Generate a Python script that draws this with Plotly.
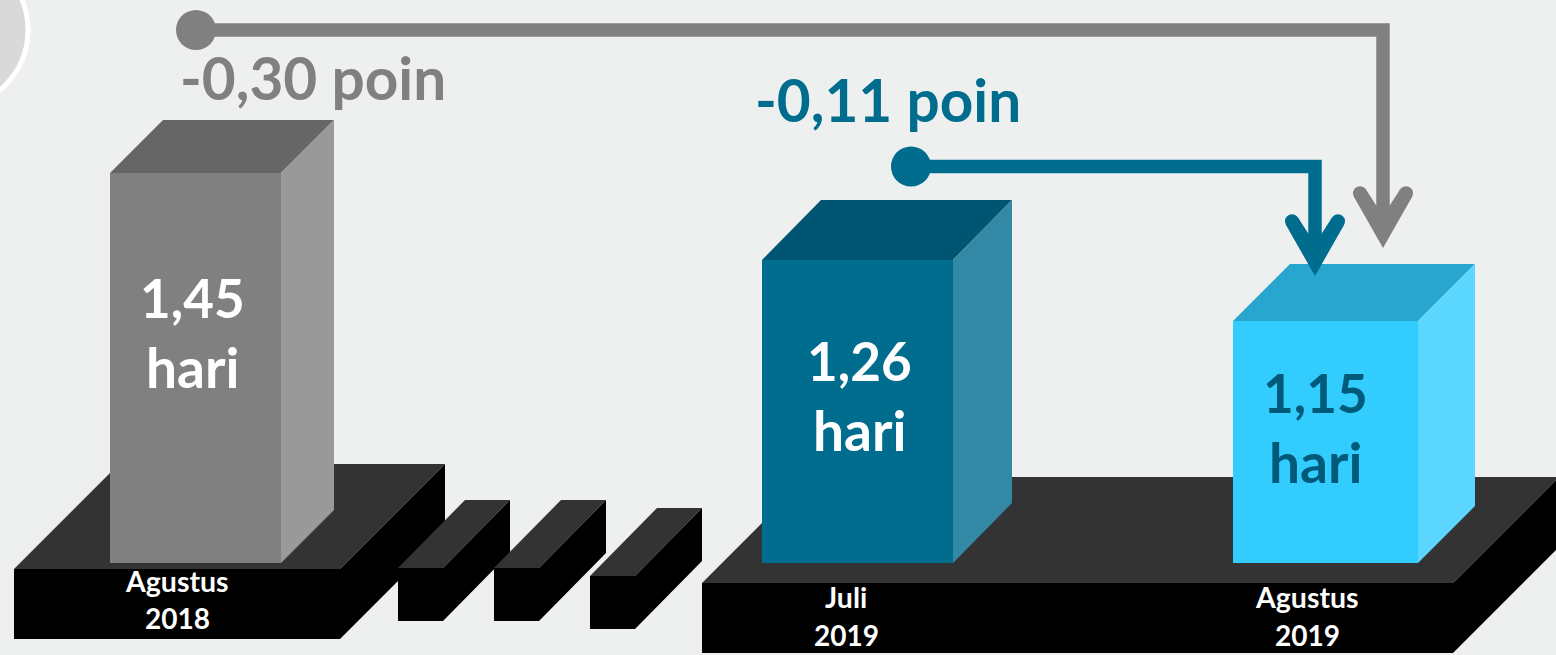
import plotly.graph_objects as go

# ---- data ----
periods = ["Agustus<br>2018", "Juli<br>2019", "Agustus<br>2019"]
values = [1.45, 1.26, 1.15]
drawn_heights = [390, 303, 242]   # bar heights as drawn in the infographic
diff_values = [-0.30, -0.11]

# ---- layout / styling ----
W, H = 1556, 655
BG = "#EEF0EF"
FONT = "Lato"
GREY, BLUE = "#808080", "#006C8E"
Y = lambda p: H - p
FLOOR = 563
bar_x = [(110, 281), (762, 953), (1233, 1418)]
bar_depth = [(53, 53), (59, 60), (57, 57)]
front_col = [GREY, BLUE, "#33CCFF"]
top_col = ["#666666", "#005672", "#29A6D0"]
side_col = ["#999999", "#3388A5", "#5AD6FF"]
val_col = ["#FFFFFF", "#FFFFFF", "#015A7A"]
val_xy = [(192, 297, 367), (859, 360, 430), (1315, 392, 462)]
period_xy = [(177, 581, 618), (846, 597, 635), (1307, 597, 635)]

shapes, annotations = [], []

def poly(pts, fill, layer="below"):
    path = "M " + " L ".join(f"{x},{Y(y)}" for x, y in pts) + " Z"
    shapes.append(dict(type="path", path=path, fillcolor=fill, line=dict(width=0),
                       xref="x", yref="y", layer=layer))

def block(x0, x1, ytop, ybot, dx, dy, front, top, side, draw_front=True):
    poly([(x0, ytop), (x0 + dx, ytop - dy), (x1 + dx, ytop - dy), (x1, ytop)], top)
    poly([(x1, ytop), (x1 + dx, ytop - dy), (x1 + dx, ybot - dy), (x1, ybot)], side)
    if draw_front:
        poly([(x0, ytop), (x1, ytop), (x1, ybot), (x0, ybot)], front)

# decorative circle at the top-left corner
shapes.append(dict(type="circle", x0=-128, x1=28, y0=Y(108), y1=Y(-48), xref="x", yref="y",
                   fillcolor="#D9D9D9", line=dict(color="#FFFFFF", width=5), layer="below"))

# pedestals
block(14, 340, 569, 639, 105, 105, "#000000", "#333333", "#000000")
block(398, 443, 568, 621, 67, 68, "#000000", "#333333", "#000000")
block(494, 539, 568, 621, 67, 68, "#000000", "#333333", "#000000")
block(590, 635, 576, 629, 67, 68, "#000000", "#333333", "#000000")
block(702, 1453, 583, 653, 106, 106, "#000000", "#333333", "#000000")

fig = go.Figure()

# bar fronts come from the drawn heights through the axis
fig.add_trace(go.Bar(
    x=[(a + b) / 2 for a, b in bar_x],
    y=drawn_heights,
    base=Y(FLOOR),
    width=[b - a for a, b in bar_x],
    marker=dict(color=front_col, line=dict(width=0)),
    hoverinfo="skip",
))

# bar tops and sides
for (a, b), h, (dx, dy), tc, sc in zip(bar_x, drawn_heights, bar_depth, top_col, side_col):
    t = FLOOR - h
    fig.add_trace(go.Scatter(x=[a, a + dx, b + dx, b, a],
                             y=[Y(t), Y(t - dy), Y(t - dy), Y(t), Y(t)],
                             fill="toself", fillcolor=tc, mode="none", hoverinfo="skip"))
    fig.add_trace(go.Scatter(x=[b, b + dx, b + dx, b, b],
                             y=[Y(t), Y(t - dy), Y(FLOOR - dy), Y(FLOOR), Y(t)],
                             fill="toself", fillcolor=sc, mode="none", hoverinfo="skip"))

# connector arrows
def connector(cx, cy, corner_x, end_y, tip_y, color):
    shapes.append(dict(type="circle", x0=cx - 20, x1=cx + 20, y0=Y(cy + 20), y1=Y(cy - 20),
                       xref="x", yref="y", fillcolor=color, line=dict(width=0), layer="above"))
    shapes.append(dict(type="path",
                       path=f"M {cx},{Y(cy)} L {corner_x},{Y(cy)} L {corner_x},{Y(end_y)}",
                       xref="x", yref="y", line=dict(color=color, width=13.5), layer="above"))
    t = tip_y
    pts = [(corner_x, t), (corner_x - 29, t - 51), (corner_x - 17, t - 58.5), (corner_x, t - 32),
           (corner_x + 17, t - 58.5), (corner_x + 29, t - 51)]
    poly(pts, color, layer="above")
    for sgn in (-1, 1):
        ex, ey = corner_x + sgn * 23, t - 54.7
        shapes.append(dict(type="circle", x0=ex - 7, x1=ex + 7, y0=Y(ey + 7), y1=Y(ey - 7),
                           xref="x", yref="y", fillcolor=color, line=dict(width=0), layer="above"))

connector(196, 30, 1383, 225, 248, GREY)
connector(911, 166.5, 1315, 250, 276, BLUE)

def text(x, y, s, size, color):
    annotations.append(dict(x=x, y=Y(y), text=s, xref="x", yref="y", showarrow=False,
                            xanchor="center", yanchor="middle",
                            font=dict(family=FONT, size=size, color=color, weight="bold")))

fmt = lambda v: f"{v:.2f}".replace(".", ",")
for v, (x, y1, y2), c in zip(values, val_xy, val_col):
    text(x, y1, fmt(v), 53, c)
    text(x, y2, "hari", 55, c)
for p, (x, y1, y2) in zip(periods, period_xy):
    a, b = p.split("<br>")
    text(x, y1, a, 28.5, "#FFFFFF")
    text(x, y2, b, 28, "#FFFFFF")
text(313, 77, f"{fmt(diff_values[0])} poin", 58.5, GREY)
text(888, 99, f"{fmt(diff_values[1])} poin", 58.5, BLUE)

fig.update_layout(
    width=W, height=H, margin=dict(l=0, r=0, t=0, b=0),
    paper_bgcolor=BG, plot_bgcolor=BG, showlegend=False, hovermode=False,
    xaxis=dict(range=[0, W], visible=False, fixedrange=True),
    yaxis=dict(range=[0, H], visible=False, fixedrange=True),
    shapes=shapes, annotations=annotations,
)
fig.write_html("out.html", config={"displayModeBar": False},
               post_script="document.body.style.margin='0';document.body.style.overflow='hidden';")
